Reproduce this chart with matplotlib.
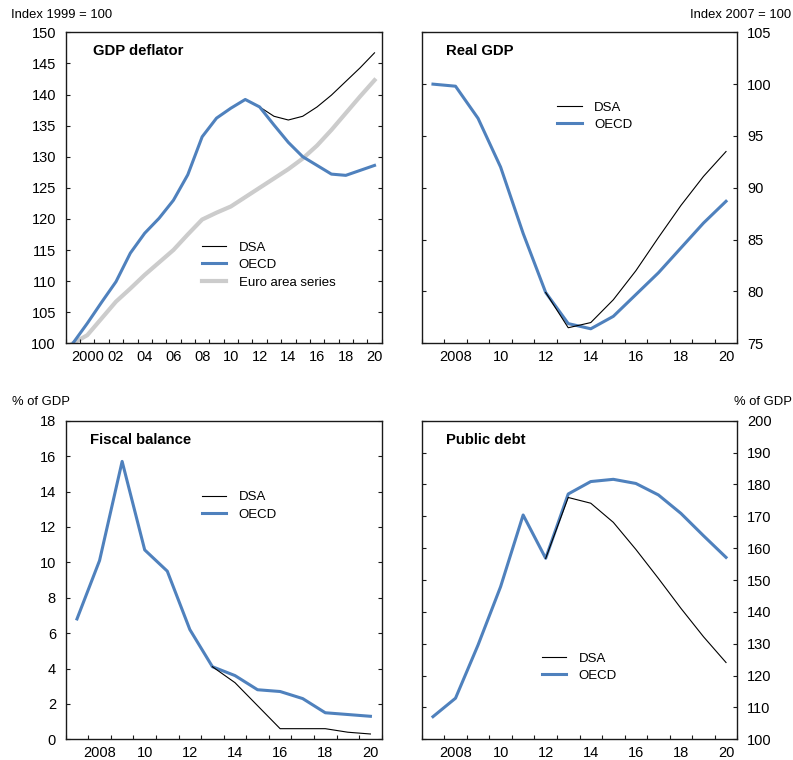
import numpy as np
import matplotlib
matplotlib.use("Agg")
import matplotlib.pyplot as plt

plt.rcParams["font.family"] = ["Liberation Sans", "DejaVu Sans"]

BLUE = "#4f81bd"
GREY = "#cccccc"
INK = "#1a1a1a"

# ---- GDP deflator (index 1999 = 100) ----
defl_years = list(range(1999, 2021))
defl_oecd = [100.0, 103.2, 106.6, 109.9, 114.5, 117.7, 120.1, 123.0, 127.1, 133.2,
             136.2, 137.8, 139.2, 138.0, 135.1, 132.3, 130.0, 128.6, 127.2, 127.0,
             127.8, 128.6]
defl_dsa_years = list(range(2012, 2021))
defl_dsa = [138.0, 136.5, 135.9, 136.5, 138.0, 139.9, 142.1, 144.3, 146.7]
defl_euro = [100.0, 101.3, 104.0, 106.7, 108.8, 111.0, 113.0, 115.0, 117.5, 119.9,
             121.0, 122.0, 123.5, 125.0, 126.5, 128.0, 129.7, 131.8, 134.3, 137.0,
             139.7, 142.3]

# ---- Real GDP (index 2007 = 100) ----
years = list(range(2007, 2021))
gdp_oecd = [100.0, 99.8, 96.7, 92.0, 85.6, 79.9, 76.9, 76.4, 77.6, 79.7, 81.8,
            84.2, 86.6, 88.7]
gdp_dsa_years = list(range(2012, 2021))
gdp_dsa = [79.9, 76.5, 77.0, 79.2, 82.0, 85.2, 88.3, 91.1, 93.5]

# ---- Fiscal balance (% of GDP) ----
fb_oecd = [6.8, 10.1, 15.7, 10.7, 9.5, 6.2, 4.1, 3.6, 2.8, 2.7, 2.3, 1.5, 1.4, 1.3]
fb_dsa_years = list(range(2013, 2021))
fb_dsa = [4.1, 3.2, 1.9, 0.6, 0.6, 0.6, 0.4, 0.3]

# ---- Public debt (% of GDP) ----
debt_oecd = [107.1, 112.9, 129.6, 147.9, 170.4, 156.8, 177.0, 180.9, 181.6, 180.3,
             176.7, 170.9, 163.9, 157.1]
debt_dsa_years = list(range(2012, 2021))
debt_dsa = [156.8, 175.9, 174.1, 168.1, 159.6, 150.5, 141.1, 132.2, 124.1]

W, H = 793, 760
fig = plt.figure(figsize=(W / 100, H / 100), dpi=100)


def box(left, top, right, bottom):
    return [left / W, 1 - bottom / H, (right - left) / W, (bottom - top) / H]


def style(ax, first, last, ylim, ystep, label_side, xlabels):
    ax.set_xlim(first - 0.5, last + 0.5)
    ax.set_ylim(*ylim)
    for s in ax.spines.values():
        s.set_color(INK)
        s.set_linewidth(1.0)
    # year-boundary ticks, labels on even years
    ax.set_xticks(np.arange(first - 0.5, last + 1.0, 1.0))
    ax.set_xticklabels([])
    ax.tick_params(axis="x", which="major", direction="in", length=3,
                   width=0.8, color=INK, top=False)
    even = [y for y in range(first, last + 1) if y % 2 == 0]
    ax.set_xticks(even, minor=True)
    ax.set_xticklabels(xlabels, minor=True)
    ax.tick_params(axis="x", which="minor", length=0, pad=5, labelsize=10.5)
    ax.set_yticks(np.arange(ylim[0], ylim[1] + ystep / 2, ystep))
    ax.tick_params(axis="y", direction="in", length=3, width=0.8, color=INK,
                   left=True, right=True,
                   labelleft=(label_side == "left"),
                   labelright=(label_side == "right"),
                   pad=7, labelsize=10.5)


def legend(ax, anchor):
    return ax.legend(loc="upper left", bbox_to_anchor=anchor, frameon=False,
                     fontsize=9.5, handlelength=1.85, handletextpad=0.95,
                     labelspacing=0.4, borderpad=0, borderaxespad=0)


# GDP deflator
ax1 = fig.add_axes(box(65.7, 32.3, 381.7, 343.3))
ax1.plot(defl_dsa_years, defl_dsa, color="black", lw=0.8, label="DSA")
ax1.plot(defl_years, defl_oecd, color=BLUE, lw=2.2, label="OECD")
ax1.plot(defl_years, defl_euro, color=GREY, lw=3.0, label="Euro area series",
         zorder=1)
style(ax1, 1999, 2020, (100, 150), 5, "left",
      ["2000", "02", "04", "06", "08", "10", "12", "14", "16", "18", "20"])
legend(ax1, (0.43, 0.328))
ax1.text(0.085, 0.94, "GDP deflator", transform=ax1.transAxes,
         fontsize=10.7, fontweight="bold", va="center", ha="left")
fig.text(11 / W, 1 - 15 / H, "Index 1999 = 100", fontsize=9.4,
         ha="left", va="center")

# Real GDP
ax2 = fig.add_axes(box(421.7, 32.3, 737.3, 343.3))
ax2.plot(gdp_dsa_years, gdp_dsa, color="black", lw=0.8, label="DSA")
ax2.plot(years, gdp_oecd, color=BLUE, lw=2.2, label="OECD", zorder=1.5)
style(ax2, 2007, 2020, (75, 105), 5, "right",
      ["2008", "10", "12", "14", "16", "18", "20"])
legend(ax2, (0.43, 0.778))
ax2.text(0.077, 0.94, "Real GDP", transform=ax2.transAxes,
         fontsize=10.7, fontweight="bold", va="center", ha="left")
fig.text(790.7 / W, 1 - 15 / H, "Index 2007 = 100", fontsize=9.4,
         ha="right", va="center")

# Fiscal balance
ax3 = fig.add_axes(box(65.7, 420.7, 381.7, 739.3))
ax3.plot(fb_dsa_years, fb_dsa, color="black", lw=0.8, label="DSA")
ax3.plot(years, fb_oecd, color=BLUE, lw=2.2, label="OECD", zorder=1.5)
style(ax3, 2007, 2020, (0, 18), 2, "left",
      ["2008", "10", "12", "14", "16", "18", "20"])
legend(ax3, (0.43, 0.779))
ax3.text(0.077, 0.94, "Fiscal balance", transform=ax3.transAxes,
         fontsize=10.7, fontweight="bold", va="center", ha="left")
fig.text(12 / W, 1 - 402 / H, "% of GDP", fontsize=9.4,
         ha="left", va="center")

# Public debt
ax4 = fig.add_axes(box(421.7, 420.7, 737.3, 739.3))
ax4.plot(debt_dsa_years, debt_dsa, color="black", lw=0.8, label="DSA")
ax4.plot(years, debt_oecd, color=BLUE, lw=2.2, label="OECD", zorder=1.5)
style(ax4, 2007, 2020, (100, 200), 10, "right",
      ["2008", "10", "12", "14", "16", "18", "20"])
legend(ax4, (0.38, 0.273))
ax4.text(0.077, 0.94, "Public debt", transform=ax4.transAxes,
         fontsize=10.7, fontweight="bold", va="center", ha="left")
fig.text(791.7 / W, 1 - 402 / H, "% of GDP", fontsize=9.4,
         ha="right", va="center")

fig.savefig("out.png", dpi=100)
